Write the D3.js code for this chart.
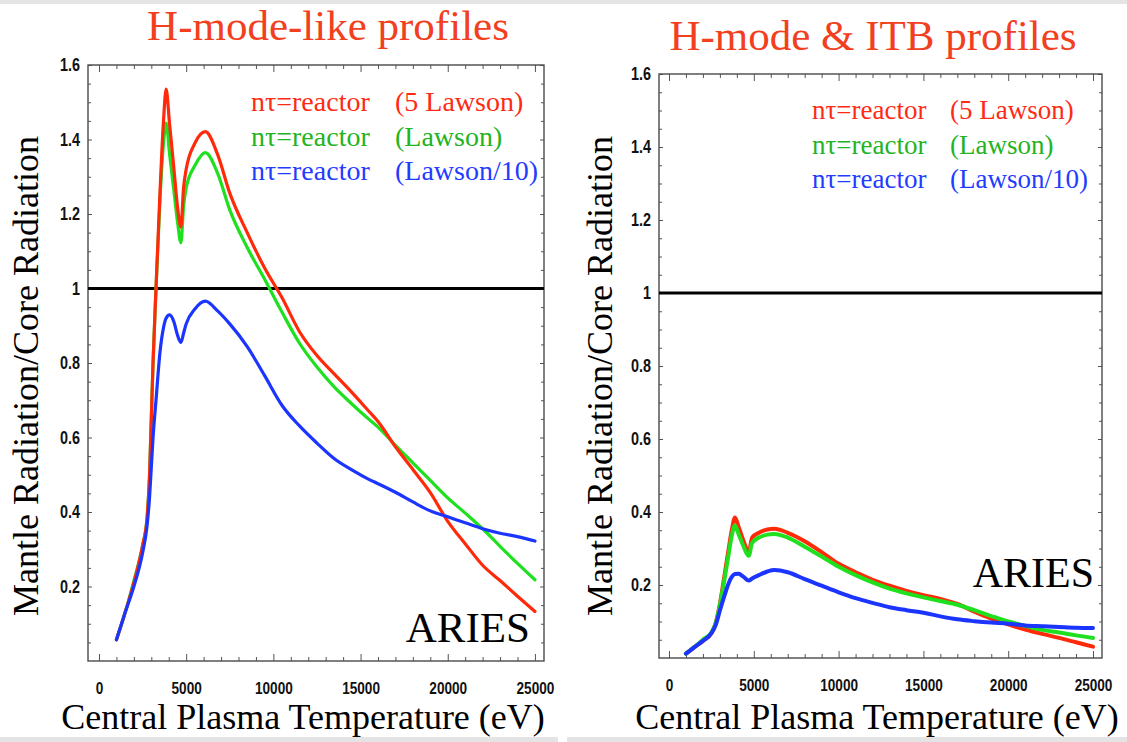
<!DOCTYPE html>
<html>
<head>
<meta charset="utf-8">
<script src="https://cdn.jsdelivr.net/npm/d3@7/dist/d3.min.js"></script>
<style>
  html, body { margin: 0; padding: 0; background: #fff; }
  svg { display: block; }
  .tick-label { font-family: "Liberation Sans Narrow", "Arial Narrow", "Liberation Sans", sans-serif; font-weight: bold; fill: #111; }
  .serif { font-family: "Liberation Serif", "Times New Roman", serif; }
</style>
</head>
<body>
<svg id="chart" width="1127" height="742"></svg>
<script>
// Central plasma temperature grid (eV) and mantle/core radiation ratios
const tempsLeft = [1000, 1500, 2000, 2500, 2750, 2900, 3000, 3100, 3270, 3500, 3700, 3850, 4050, 4300, 4500, 4700, 4850, 5000, 5500, 6100, 6800, 7500, 8500, 9500, 10500, 11500, 12500, 13500, 14500, 15500, 16000, 17000, 18000, 19000, 20000, 21000, 22000, 23000, 24000, 25000];
const red5LawsonLeft = [0.057, 0.13, 0.21, 0.31, 0.38, 0.50, 0.65, 0.80, 1.00, 1.26, 1.45, 1.535, 1.44, 1.32, 1.22, 1.165, 1.27, 1.32, 1.39, 1.421, 1.36, 1.256, 1.15, 1.055, 0.975, 0.884, 0.82, 0.77, 0.721, 0.669, 0.643, 0.575, 0.514, 0.452, 0.375, 0.315, 0.257, 0.216, 0.174, 0.133];
const greenLawsonLeft = [0.057, 0.13, 0.215, 0.31, 0.38, 0.50, 0.65, 0.80, 1.00, 1.24, 1.39, 1.444, 1.36, 1.26, 1.18, 1.123, 1.22, 1.27, 1.33, 1.365, 1.31, 1.211, 1.11, 1.025, 0.936, 0.853, 0.789, 0.735, 0.69, 0.648, 0.628, 0.579, 0.532, 0.485, 0.438, 0.397, 0.355, 0.308, 0.262, 0.218];
const blueLawson10Left = [0.057, 0.13, 0.2, 0.29, 0.36, 0.44, 0.52, 0.6, 0.70, 0.83, 0.895, 0.92, 0.929, 0.91, 0.875, 0.855, 0.88, 0.905, 0.945, 0.966, 0.94, 0.905, 0.844, 0.766, 0.686, 0.631, 0.585, 0.543, 0.513, 0.487, 0.476, 0.453, 0.427, 0.403, 0.387, 0.371, 0.355, 0.343, 0.334, 0.322];

const tempsRight = [1000, 1500, 2000, 2500, 2750, 3000, 3250, 3500, 3700, 3890, 4100, 4400, 4700, 4900, 5300, 5800, 6200, 7000, 8000, 9000, 10000, 11000, 12000, 13000, 14000, 15000, 16000, 17000, 18000, 19000, 20000, 21000, 22000, 23000, 24000, 25000];
const red5LawsonRight = [0.012, 0.03, 0.047, 0.068, 0.095, 0.148, 0.22, 0.294, 0.35, 0.385, 0.36, 0.32, 0.29, 0.33, 0.343, 0.352, 0.354, 0.343, 0.32, 0.29, 0.258, 0.235, 0.214, 0.198, 0.184, 0.172, 0.162, 0.148, 0.127, 0.108, 0.092, 0.078, 0.066, 0.055, 0.043, 0.031];
const greenLawsonRight = [0.012, 0.03, 0.05, 0.07, 0.095, 0.145, 0.21, 0.28, 0.335, 0.363, 0.34, 0.305, 0.28, 0.315, 0.33, 0.338, 0.34, 0.33, 0.305, 0.278, 0.25, 0.227, 0.207, 0.19, 0.177, 0.166, 0.156, 0.146, 0.131, 0.115, 0.1, 0.088, 0.077, 0.07, 0.062, 0.055];
const blueLawson10Right = [0.012, 0.03, 0.047, 0.068, 0.09, 0.13, 0.168, 0.203, 0.222, 0.23, 0.231, 0.222, 0.212, 0.218, 0.227, 0.237, 0.241, 0.235, 0.216, 0.198, 0.18, 0.164, 0.151, 0.139, 0.131, 0.124, 0.114, 0.106, 0.101, 0.097, 0.094, 0.089, 0.087, 0.085, 0.083, 0.082];

// Axis ticks and text
const xTickLabels = [0, 5000, 10000, 15000, 20000, 25000];
const yTickLabels = [0.2, 0.4, 0.6, 0.8, 1, 1.2, 1.4, 1.6];
const panelTitles = ["H-mode-like profiles", "H-mode & ITB profiles"];
const legendPrefix = "n\u03c4=reactor";
const legendSuffixes = ["(5 Lawson)", "(Lawson)", "(Lawson/10)"];
const xTitle = "Central Plasma Temperature (eV)";
const yTitle = "Mantle Radiation/Core Radiation";
const stamp = "ARIES";
const referenceLevel = 1;

const lineColors = { red: "#ff2a0a", green: "#1fe01f", blue: "#1b35ff" };
const legendColors = ["#ff2a14", "#22b422", "#1f3cff"];
const titleColor = "#f2401e";

const svg = d3.select("#chart");

// light strips along top and bottom edges
svg.append("rect").attr("x", 0).attr("y", 0).attr("width", 1127).attr("height", 4).attr("fill", "#e4e4e4");
svg.append("rect").attr("x", 0).attr("y", 737).attr("width", 558).attr("height", 5).attr("fill", "#e4e4e4");
svg.append("rect").attr("x", 567).attr("y", 737).attr("width", 560).attr("height", 5).attr("fill", "#e4e4e4");

// condensed look for the numeric tick labels
const narrow = 0.8;

function drawPanel(cfg) {
  const g = svg.append("g");
  const x = d3.scaleLinear().domain(cfg.xDomain).range([cfg.left, cfg.right]);
  const y = d3.scaleLinear().domain([0, 1.6]).range([cfg.bottom, cfg.top]);

  const xMinor = d3.range(0, 25001, 1000).filter(v => v % 5000 !== 0);
  const yMinor = d3.range(0.05, 1.6, 0.05).map(v => +v.toFixed(2)).filter(v => !yTickLabels.some(t => Math.abs(t - v) < 1e-6));

  // inward ticks on all four sides
  const tickGroups = [
    [d3.axisTop(x).tickValues(xMinor).tickSize(4), `translate(0,${cfg.bottom})`],
    [d3.axisTop(x).tickValues(xTickLabels).tickSize(7), `translate(0,${cfg.bottom})`],
    [d3.axisBottom(x).tickValues(xMinor).tickSize(4), `translate(0,${cfg.top})`],
    [d3.axisBottom(x).tickValues(xTickLabels).tickSize(7), `translate(0,${cfg.top})`],
    [d3.axisRight(y).tickValues(yMinor).tickSize(3), `translate(${cfg.left},0)`],
    [d3.axisRight(y).tickValues(yTickLabels).tickSize(4), `translate(${cfg.left},0)`],
    [d3.axisLeft(y).tickValues(yMinor).tickSize(3), `translate(${cfg.right},0)`],
    [d3.axisLeft(y).tickValues(yTickLabels).tickSize(4), `translate(${cfg.right},0)`]
  ];
  tickGroups.forEach(([ax, tr]) => {
    const a = g.append("g").attr("transform", tr).call(ax.tickFormat(""));
    a.select(".domain").remove();
    a.selectAll("line").attr("stroke", "#555").attr("stroke-width", 1);
  });

  // tick labels
  const xl = g.append("g").attr("transform", `translate(0,${cfg.bottom})`)
    .call(d3.axisBottom(x).tickValues(xTickLabels).tickSize(0).tickPadding(cfg.xLabelPad).tickFormat(d3.format("d")));
  xl.select(".domain").remove();
  xl.selectAll("text").attr("class", "tick-label").attr("font-size", 17).attr("fill", "#111")
    .attr("transform", `scale(${narrow},1)`);

  const yl = g.append("g").attr("transform", `translate(${cfg.left},0)`)
    .call(d3.axisLeft(y).tickValues(yTickLabels).tickSize(0).tickPadding(8 / narrow).tickFormat(d3.format("~g")));
  yl.select(".domain").remove();
  yl.selectAll("text").attr("class", "tick-label").attr("font-size", 18).attr("fill", "#111")
    .attr("transform", `scale(${narrow},1)`);

  // frame
  g.append("rect").attr("x", cfg.left).attr("y", cfg.top)
    .attr("width", cfg.right - cfg.left).attr("height", cfg.bottom - cfg.top)
    .attr("fill", "none").attr("stroke", "#4a4a4a").attr("stroke-width", 1.4);

  // reference line at ratio 1
  g.append("line").attr("x1", cfg.left).attr("x2", cfg.right)
    .attr("y1", y(referenceLevel)).attr("y2", y(referenceLevel))
    .attr("stroke", "#000").attr("stroke-width", 3);

  const line = d3.line().x(d => x(d[0])).y(d => y(d[1])).curve(d3.curveMonotoneX);
  cfg.series.forEach(s => {
    g.append("path").datum(cfg.temps.map((t, i) => [t, s.values[i]]))
      .attr("d", line).attr("fill", "none").attr("stroke", s.color)
      .attr("stroke-width", cfg.lineWidth).attr("stroke-linejoin", "round").attr("stroke-linecap", "round");
  });

  // panel title
  g.append("text").attr("class", "serif").attr("x", cfg.titleX).attr("y", cfg.titleY)
    .attr("text-anchor", "middle").attr("font-size", 43).attr("fill", titleColor).text(cfg.title);

  // legend
  legendSuffixes.forEach((s, i) => {
    const by = cfg.legendY + i * 34.5;
    g.append("text").attr("class", "serif").attr("x", cfg.legendX).attr("y", by)
      .attr("font-size", cfg.legendSize).attr("fill", legendColors[i]).text(legendPrefix);
    g.append("text").attr("class", "serif").attr("x", cfg.legendX2).attr("y", by)
      .attr("font-size", cfg.legendSize).attr("fill", legendColors[i]).text(s);
  });

  // stamp
  g.append("text").attr("class", "serif").attr("x", cfg.stampX).attr("y", cfg.stampY)
    .attr("text-anchor", "end").attr("font-size", cfg.stampSize).attr("fill", "#000").text(stamp);

  // axis titles
  g.append("text").attr("class", "serif").attr("x", cfg.xTitleX).attr("y", cfg.xTitleY)
    .attr("text-anchor", "middle").attr("font-size", 36).attr("fill", "#000").text(xTitle);
  g.append("text").attr("class", "serif")
    .attr("transform", `translate(${cfg.yTitleX},${cfg.yTitleY}) rotate(-90)`)
    .attr("text-anchor", "middle").attr("font-size", 36).attr("fill", "#000").text(yTitle);
}

drawPanel({
  left: 88, right: 544, top: 65, bottom: 661, xDomain: [-630, 25520],
  temps: tempsLeft, lineWidth: 3.2, xLabelPad: 21,
  series: [
    { values: greenLawsonLeft, color: lineColors.green },
    { values: red5LawsonLeft, color: lineColors.red },
    { values: blueLawson10Left, color: lineColors.blue }
  ],
  title: panelTitles[0], titleX: 328, titleY: 40,
  legendX: 251, legendX2: 395, legendY: 111, legendSize: 28,
  stampX: 530, stampY: 642, stampSize: 43,
  xTitleX: 303, xTitleY: 729, yTitleX: 38, yTitleY: 376
});

drawPanel({
  left: 659, right: 1102, top: 74, bottom: 658, xDomain: [-590, 25530],
  temps: tempsRight, lineWidth: 4, xLabelPad: 21,
  series: [
    { values: red5LawsonRight, color: lineColors.red },
    { values: greenLawsonRight, color: lineColors.green },
    { values: blueLawson10Right, color: lineColors.blue }
  ],
  title: panelTitles[1], titleX: 873, titleY: 50,
  legendX: 812, legendX2: 950, legendY: 119, legendSize: 27,
  stampX: 1094, stampY: 587, stampSize: 42,
  xTitleX: 877, xTitleY: 729, yTitleX: 612, yTitleY: 376
});
</script>
</body>
</html>
